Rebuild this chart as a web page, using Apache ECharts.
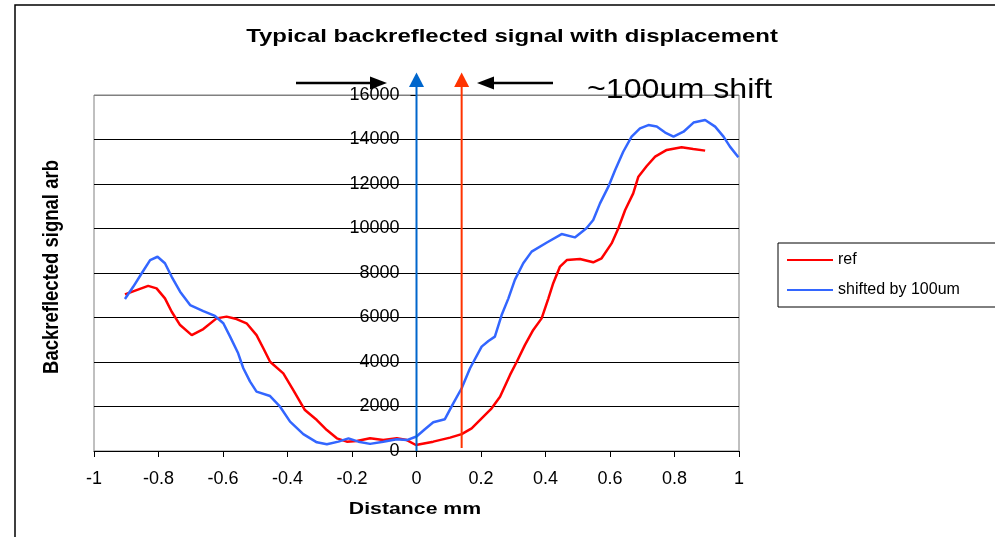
<!DOCTYPE html>
<html>
<head>
<meta charset="utf-8">
<script src="https://cdn.jsdelivr.net/npm/echarts@6/dist/echarts.min.js"></script>
<style>
html,body{margin:0;padding:0;background:#fff;}
#chart{width:995px;height:537px;}
</style>
</head>
<body>
<div id="chart"></div>
<script>
// ---- data ----
var refDist = [-0.904,-0.832,-0.806,-0.780,-0.759,-0.733,-0.697,-0.661,-0.620,-0.589,-0.558,-0.527,-0.496,-0.475,-0.454,-0.413,-0.382,-0.346,-0.309,-0.278,-0.247,-0.216,-0.185,-0.144,-0.103,-0.061,-0.030,-0.002,0.052,0.104,0.140,0.171,0.202,0.233,0.259,0.290,0.311,0.336,0.362,0.388,0.409,0.424,0.445,0.466,0.507,0.548,0.574,0.605,0.626,0.647,0.672,0.688,0.714,0.740,0.776,0.822,0.858,0.895];
var refSignal = [7040,7420,7310,6860,6260,5660,5210,5480,5960,6040,5930,5740,5210,4620,4010,3490,2740,1840,1390,940,570,420,450,570,490,570,490,270,420,600,760,1020,1470,1920,2440,3420,4010,4760,5440,5960,6860,7540,8290,8580,8630,8480,8660,9330,10010,10830,11580,12330,12810,13230,13530,13650,13570,13500];
var shiftDist = [-0.904,-0.878,-0.852,-0.826,-0.803,-0.780,-0.759,-0.733,-0.702,-0.661,-0.625,-0.599,-0.578,-0.553,-0.537,-0.516,-0.496,-0.454,-0.423,-0.392,-0.351,-0.309,-0.278,-0.242,-0.211,-0.180,-0.144,-0.103,-0.061,-0.030,0.000,0.026,0.052,0.088,0.114,0.140,0.166,0.202,0.223,0.243,0.264,0.285,0.305,0.331,0.357,0.403,0.450,0.491,0.527,0.548,0.569,0.595,0.616,0.641,0.667,0.693,0.719,0.745,0.771,0.797,0.828,0.859,0.895,0.926,0.952,0.972,0.998];
var shiftSignal = [6830,7390,7990,8580,8730,8440,7830,7160,6560,6290,6070,5740,5140,4390,3720,3120,2670,2470,1990,1320,760,390,300,420,570,420,320,420,530,490,650,980,1290,1430,2140,2820,3720,4690,4940,5140,6110,6860,7690,8440,8960,9360,9750,9600,10010,10380,11130,11880,12630,13450,14130,14500,14650,14580,14310,14130,14350,14760,14880,14580,14130,13680,13200];
var seriesNames = ['ref','shifted by 100um'];
var markerPositions = [0, 0.14]; // vertical annotation lines (mm)
var titleText = 'Typical backreflected signal with displacement';
var xTitle = 'Distance mm';
var yTitle = 'Backreflected signal arb';
var shiftLabel = '~100um shift';

function zip(a,b){ var o=[]; for(var i=0;i<a.length;i++) o.push([a[i],b[i]]); return o; }

var FONT = '"Liberation Sans", Arial, sans-serif';
var chart = echarts.init(document.getElementById('chart'), null, {renderer:'canvas'});

var gridColors = ['#000','#000','#000','#000','#000','#000','#000','#000','#808080'];
var GRID_LEFT = 94;

chart.setOption({
  animation:false,
  backgroundColor:'#fff',
  grid:{left:GRID_LEFT,right:256,top:95,bottom:86,show:true,borderColor:'#808080',borderWidth:1,containLabel:false},
  legend:{
    orient:'vertical', left:778, top:243,
    padding:[9,200,9,8], itemGap:14, itemWidth:46, itemHeight:14,
    borderColor:'#000', borderWidth:1, backgroundColor:'#fff',
    itemStyle:{opacity:0},
    textStyle:{fontFamily:FONT,fontSize:16,color:'#000'},
    data:seriesNames
  },
  xAxis:{
    type:'value', min:-1, max:1, interval:0.2,
    axisLine:{onZero:false,lineStyle:{color:'#000',width:1}},
    axisTick:{show:true,length:6,lineStyle:{color:'#000'}},
    axisLabel:{margin:19,fontFamily:FONT,fontSize:18,color:'#000',
      formatter:function(v){ return Math.abs(v)<1e-9 ? '0' : String(+v.toFixed(1)); }},
    splitLine:{show:false}
  },
  yAxis:{
    type:'value', min:0, max:16000, interval:2000,
    axisLine:{show:true,onZero:false,lineStyle:{color:'#808080'}},
    axisTick:{show:true,length:6,lineStyle:{color:'#000'}},
    axisLabel:{margin:17,fontFamily:FONT,fontSize:18,color:'#000',
      formatter:function(v){ return String(v); }},
    splitLine:{show:true,lineStyle:{color:gridColors,width:1}}
  },
  series:[
    {name:seriesNames[0],type:'line',data:zip(refDist,refSignal),symbol:'none',
     lineStyle:{color:'#FF0000',width:2.5},itemStyle:{color:'#FF0000'},z:3},
    {name:seriesNames[1],type:'line',data:zip(shiftDist,shiftSignal),symbol:'none',
     lineStyle:{color:'#3366FF',width:2.5},itemStyle:{color:'#3366FF'},z:4}
  ]
});

// move the value axis to cross at distance 0 (as in the reference)
var p0 = chart.convertToPixel({gridIndex:0},[markerPositions[0],0]);
var p1 = chart.convertToPixel({gridIndex:0},[markerPositions[1],0]);
chart.setOption({yAxis:{offset:-(p0[0]-GRID_LEFT)}});

var tipY = 72.5, baseY = 87, arrowY = 83;
function vArrow(x, yBottom, color){
  return [
    {type:'line',shape:{x1:x,y1:yBottom,x2:x,y2:baseY-1},style:{stroke:color,lineWidth:2},z:50},
    {type:'polygon',shape:{points:[[x,tipY],[x-7.5,baseY],[x+7.5,baseY]]},style:{fill:color},z:50}
  ];
}
var graphics = [
  {type:'rect',shape:{x:15,y:5,width:1000,height:600},style:{fill:'none',stroke:'#000',lineWidth:1.5},z:0,silent:true},
  {type:'text',x:512,y:37,scaleX:1.26,style:{text:titleText,x:0,y:0,align:'center',verticalAlign:'middle',font:'bold 19px '+FONT,fill:'#000'},z:60},
  {type:'text',x:415,y:509,scaleX:1.25,style:{text:xTitle,x:0,y:0,align:'center',verticalAlign:'middle',font:'bold 17px '+FONT,fill:'#000'},z:60},
  {type:'text',x:52,y:267,rotation:Math.PI/2,scaleY:1.2,style:{text:yTitle,x:0,y:0,align:'center',verticalAlign:'middle',font:'bold 18.5px '+FONT,fill:'#000'},z:60},
  {type:'text',x:587,y:90,scaleX:1.15,style:{text:shiftLabel,x:0,y:0,align:'left',verticalAlign:'middle',font:'28px '+FONT,fill:'#000'},z:60},
  {type:'line',shape:{x1:296,y1:arrowY,x2:374,y2:arrowY},style:{stroke:'#000',lineWidth:2.5},z:50},
  {type:'polygon',shape:{points:[[387,arrowY],[370,arrowY-6.5],[370,arrowY+6.5]]},style:{fill:'#000'},z:50},
  {type:'line',shape:{x1:490,y1:arrowY,x2:553,y2:arrowY},style:{stroke:'#000',lineWidth:2.5},z:50},
  {type:'polygon',shape:{points:[[477,arrowY],[494,arrowY-6.5],[494,arrowY+6.5]]},style:{fill:'#000'},z:50}
].concat(vArrow(p0[0], p0[1], '#0066CC')).concat(vArrow(p1[0], p1[1]-3, '#FF3300'));

chart.setOption({graphic:graphics});
</script>
</body>
</html>
